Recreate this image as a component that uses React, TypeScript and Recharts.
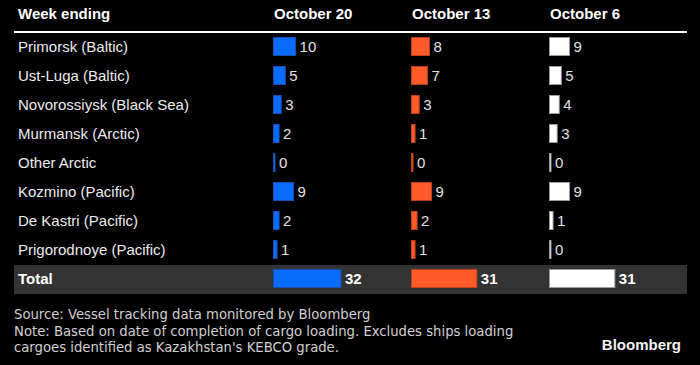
import { BarChart, Bar, XAxis, YAxis, LabelList } from 'recharts'

const ports = [
  'Primorsk (Baltic)',
  'Ust-Luga (Baltic)',
  'Novorossiysk (Black Sea)',
  'Murmansk (Arctic)',
  'Other Arctic',
  'Kozmino (Pacific)',
  'De Kastri (Pacific)',
  'Prigorodnoye (Pacific)',
  'Total',
]
const oct20 = [10, 5, 3, 2, 0, 9, 2, 1, 32]
const oct13 = [8, 7, 3, 1, 0, 9, 2, 1, 31]
const oct6 = [9, 5, 4, 3, 0, 9, 1, 0, 31]
const weeks = ['October 20', 'October 13', 'October 6']

const data = ports.map((port, i) => ({ port, oct20: oct20[i], oct13: oct13[i], oct6: oct6[i] }))

const FONT = '"Liberation Sans", Arial, sans-serif'
const ROW_H = 261
const COL_W = 138

const series = [
  { key: 'oct20', fill: '#0a6cff', edge: '#1a4fb0' },
  { key: 'oct13', fill: '#ff5a28', edge: '#b8411c' },
  { key: 'oct6', fill: '#ffffff', edge: '#9a9a9a' },
]

function barShape(fill: string, edge: string) {
  return (props: any) => {
    const { x, y, width, height } = props
    const w = Math.max(width || 0, 0)
    return (
      <rect
        x={x + 0.5}
        y={y + 0.5}
        width={w + 1.5}
        height={height - 1}
        fill={fill}
        stroke={edge}
        strokeWidth={1}
      />
    )
  }
}

function valueLabel(props: any) {
  const { x, y, width, height, value, index } = props
  const total = index === ports.length - 1
  return (
    <text
      x={x + Math.max(width || 0, 0) + 6}
      y={y + height / 2}
      dy="0.35em"
      fontFamily={FONT}
      fontSize={15}
      fontWeight={total ? 700 : 400}
      fill={total ? '#ffffff' : '#e2e2e2'}
    >
      {value}
    </text>
  )
}

function portTick(props: any) {
  const { y, payload } = props
  const total = payload.value === 'Total'
  return (
    <text
      x={18}
      y={y}
      dy="0.35em"
      fontFamily={FONT}
      fontSize={15}
      fontWeight={total ? 700 : 400}
      fill={total ? '#ffffff' : '#ececec'}
    >
      {payload.value}
    </text>
  )
}

function Column({ idx }: { idx: number }) {
  const s = series[idx]
  const first = idx === 0
  return (
    <BarChart
      width={first ? 273 + COL_W : COL_W}
      height={ROW_H}
      data={data}
      layout="vertical"
      margin={{ top: 0, right: 0, bottom: 0, left: 0 }}
      barSize={19}
      style={{ position: 'absolute', left: first ? 0 : 273 + COL_W * idx, top: 32 }}
    >
      <XAxis type="number" domain={[0, 67]} hide />
      <YAxis
        type="category"
        dataKey="port"
        width={first ? 273 : 0}
        hide={!first}
        axisLine={false}
        tickLine={false}
        tick={portTick}
        interval={0}
      />
      <Bar dataKey={s.key} shape={barShape(s.fill, s.edge)} isAnimationActive={false}>
        <LabelList dataKey={s.key} content={valueLabel} />
      </Bar>
    </BarChart>
  )
}

export default function App() {
  return (
    <div
      style={{
        position: 'absolute',
        left: 0,
        top: 0,
        width: 700,
        height: 365,
        background: '#000',
        fontFamily: FONT,
        overflow: 'hidden',
      }}
    >
      <div style={{ position: 'absolute', left: 18, top: 5, fontSize: 15, fontWeight: 700, color: '#fff' }}>
        Week ending
      </div>
      {weeks.map((w, i) => (
        <div
          key={w}
          style={{ position: 'absolute', left: 274 + COL_W * i, top: 5, fontSize: 15, fontWeight: 700, color: '#fff' }}
        >
          {w}
        </div>
      ))}
      <div style={{ position: 'absolute', left: 14, top: 31, width: 673, height: 2, background: '#fff' }} />
      <div style={{ position: 'absolute', left: 14, top: 265, width: 673, height: 29, background: '#333333' }} />
      {[0, 1, 2].map((i) => (
        <Column key={i} idx={i} />
      ))}
      <div
        style={{
          position: 'absolute',
          left: 14,
          top: 306,
          fontFamily: '"DejaVu Sans Condensed", "DejaVu Sans", sans-serif',
          fontSize: 14.7,
          lineHeight: '16.6px',
          color: '#d0d0d0',
          whiteSpace: 'nowrap',
        }}
      >
        Source: Vessel tracking data monitored by Bloomberg
        <br />
        Note: Based on date of completion of cargo loading. Excludes ships loading
        <br />
        cargoes identified as Kazakhstan's KEBCO grade.
      </div>
      <div
        style={{ position: 'absolute', right: 19, top: 336, fontSize: 15, fontWeight: 700, color: '#f2f2f2' }}
      >
        Bloomberg
      </div>
    </div>
  )
}
